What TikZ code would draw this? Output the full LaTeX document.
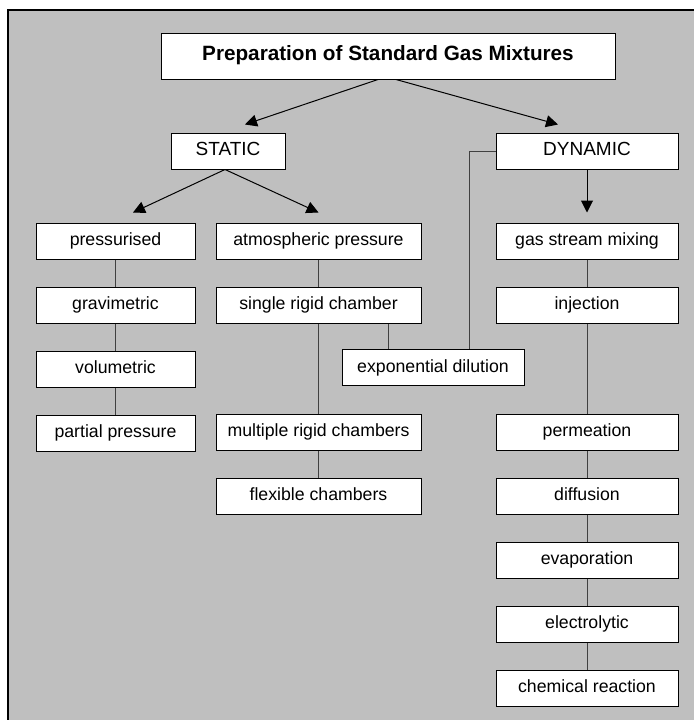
\documentclass[tikz,border=0pt]{standalone}
\usepackage{fontspec}
\setmainfont{Liberation Sans}
\usetikzlibrary{positioning,arrows.meta}

\begin{document}
\begin{tikzpicture}[x=1pt,y=-1pt,
			box/.style={draw, fill=white, line width=1pt, minimum height=36pt, inner sep=0pt,
					text height=13pt, text depth=4pt, font=\fontsize{17.7}{21}\selectfont},
			lbox/.style={box, minimum width=159pt},
			mbox/.style={box, minimum width=205pt},
			rbox/.style={box, minimum width=182pt},
			head/.style={box, font=\fontsize{19}{23}\selectfont},
			arr/.style={-{Triangle[length=12pt,width=12pt]}, line width=1pt},
			link/.style={draw=black!75, line width=1pt}]
		\useasboundingbox (0,0) rectangle (694,720);
		\fill[black!25] (8,10) rectangle (694,720);
		\draw[line width=1.3pt] (8,720) -- (8,10) -- (694,10);

		\node[box, minimum width=454pt, minimum height=46pt, font=\bfseries\fontsize{20.7}{25}\selectfont]
			(top) at (388,56) {Preparation of Standard Gas Mixtures};
		\node[head, minimum width=114pt] (st) at (228,151) {STATIC};
		\node[head, minimum width=182pt] (dy) at (587,151) {DYNAMIC};

		\node[lbox] (p1) at (115.5,241) {pressurised};
		\node[lbox, below=27pt of p1] (p2) {gravimetric};
		\node[lbox, below=27pt of p2] (p3) {volumetric};
		\node[lbox, below=27pt of p3] (p4) {partial pressure};

		\node[mbox] (a1) at (318.5,241) {atmospheric pressure};
		\node[mbox, below=27pt of a1] (a2) {single rigid chamber};
		\node[rbox] (a3) at (433,367.5) {exponential dilution};
		\node[mbox, below=90pt of a2] (a4) {multiple rigid chambers};
		\node[mbox, below=27pt of a4] (a5) {flexible chambers};

		\node[rbox] (d1) at (587,241) {gas stream mixing};
		\node[rbox, below=27pt of d1] (d2) {injection};
		\node[rbox, below=90pt of d2] (d3) {permeation};
		\node[rbox, below=27pt of d3] (d4) {diffusion};
		\node[rbox, below=27pt of d4] (d5) {evaporation};
		\node[rbox, below=27pt of d5] (d6) {electrolytic};
		\node[rbox, below=27pt of d6] (d7) {chemical reaction};

		\draw[arr] ([xshift=-10pt]top.south) -- ([xshift=17pt,yshift=8pt]st.north);
		\draw[arr] ([xshift=8pt]top.south) -- ([xshift=-29pt,yshift=8pt]dy.north);
		\draw[arr] ([xshift=-3pt]st.south) -- ([xshift=17.5pt,yshift=10pt]p1.north);
		\draw[arr] ([xshift=-3pt]st.south) -- ([yshift=10pt]a1.north);
		\draw[arr] (dy.south) -- ([yshift=10pt]d1.north);

		\draw[link] (p1) -- (p2) (p2) -- (p3) (p3) -- (p4);
		\draw[link] (a1) -- (a2) (a2) -- (a4) (a4) -- (a5);
		\draw[link] ([xshift=69.5pt]a2.south) -- ([xshift=69.5pt]a2.south |- a3.north);
		\draw[link] (dy.west) -| ([xshift=36pt]a3.north);
		\draw[link] (d1) -- (d2) (d2) -- (d3) (d3) -- (d4) (d4) -- (d5) (d5) -- (d6) (d6) -- (d7);
	\end{tikzpicture}
\end{document}
